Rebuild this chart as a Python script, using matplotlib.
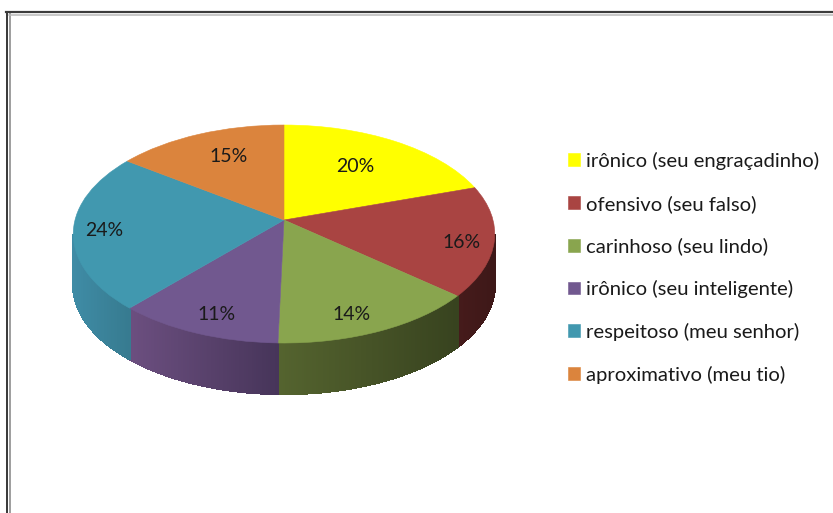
"""3D look pie chart of address forms, built on ax.pie with a perspective transform."""
import numpy as np
import matplotlib; matplotlib.use("Agg"); import matplotlib.pyplot as plt
from matplotlib.transforms import Transform
from matplotlib.lines import Line2D
from matplotlib.colors import to_rgb

categories = ["irônico (seu engraçadinho)", "ofensivo (seu falso)", "carinhoso (seu lindo)",
              "irônico (seu inteligente)", "respeitoso (meu senhor)", "aproximativo (meu tio)"]
# slice sizes as measured on the picture, the printed labels are rounded
values = [20, 16.4, 14.2, 11.3, 23.5, 15]
pct_labels = ["20%", "16%", "14%", "11%", "24%", "15%"]
colors = ["#ffff00", "#a94442", "#89a54e", "#71588f", "#4198af", "#db843d"]
# wall colours, left and right end of each slice as seen on screen
walls = [("#8a8a00", "#8a8a00"), ("#461b1b", "#3e1818"), ("#55642f", "#38431f"),
         ("#6c4f80", "#47355a"), ("#3f8ca6", "#377b90"), ("#a05f2a", "#a05f2a")]

W, H = 833, 513
CX, CY, SX, SY, K, DEPTH = 284, 220, 209, 107.2, 0.1285, 51

class Persp(Transform):
    input_dims = output_dims = 2
    def transform_non_affine(self, xy):
        xy = np.asarray(xy, float); d = 1 + K * xy[:, 1]
        return np.column_stack([xy[:, 0] / d, xy[:, 1] / d])

fig = plt.figure(figsize=(W / 100, H / 100), dpi=100, facecolor="white")
ax = fig.add_axes([0, 0, 1, 1])
px = lambda x, y: ((x - CX) / SX, (CY - y) / SY)

persp = Persp() + ax.transData
wedges, _, autotexts = ax.pie(values, colors=colors, startangle=90, counterclock=False, autopct="%d%%",
                              wedgeprops=dict(transform=persp, lw=0.4),
                              textprops=dict(family="Lato", fontsize=14, color="#1a1a1a"))
for w, c in zip(wedges, colors): w.set_edgecolor(c)
ax.set_aspect("auto"); ax.set_frame_on(False)
ax.set_xlim(px(0, 0)[0], px(W, 0)[0]); ax.set_ylim(px(0, H)[1], px(0, 0)[1])

# side wall, only the part of the rim that faces the viewer
d = DEPTH / SY
for w, (cl, cr) in zip(wedges, walls):
    t = np.radians(np.append(np.arange(w.theta1, w.theta2, 0.5), w.theta2))
    t = t[np.sin(t) < -K]
    if len(t) < 2: continue
    xy = Persp().transform_non_affine(np.column_stack([np.cos(t), np.sin(t)]))
    lo, hi = xy[:, 0].min(), xy[:, 0].max()
    for i in range(len(t) - 1):
        f = ((xy[i, 0] + xy[i + 1, 0]) / 2 - lo) / (hi - lo)
        c = (1 - f) * np.array(to_rgb(cl)) + f * np.array(to_rgb(cr))
        ax.fill([xy[i, 0], xy[i + 1, 0], xy[i + 1, 0], xy[i, 0]],
                [xy[i, 1], xy[i + 1, 1], xy[i + 1, 1] - d, xy[i, 1] - d],
                color=c, lw=1, antialiased=False, zorder=0.5)

for txt, s, pos in zip(autotexts, pct_labels, [(355, 166), (462, 243), (352, 315), (217, 315), (104, 231), (229, 156)]):
    txt.set_text(s); txt.set_position(px(*pos))

leg = ax.legend(wedges, categories, loc="upper left", bbox_to_anchor=(568 / W, 1 - 152 / H), frameon=False,
                prop=dict(family="Lato", size=14.6), labelcolor="#1a1a1a", handlelength=0.6, handleheight=0.6,
                handletextpad=0.3, labelspacing=1.22, borderpad=0, borderaxespad=0)

# window frame of the screenshot
for xs, ys, col, lw in [([7, 7], [12, H], "#3c3c3c", 2), ([10, 10], [14, H], "#a0a0a0", 2),
                        ([6, W], [12, 12], "#3c3c3c", 2.2), ([9, W], [14.5, 14.5], "#b8b8b8", 1.5)]:
    fig.add_artist(Line2D([x / W for x in xs], [1 - y / H for y in ys], color=col, lw=lw * 0.72))

plt.savefig("out.png", dpi=100)
